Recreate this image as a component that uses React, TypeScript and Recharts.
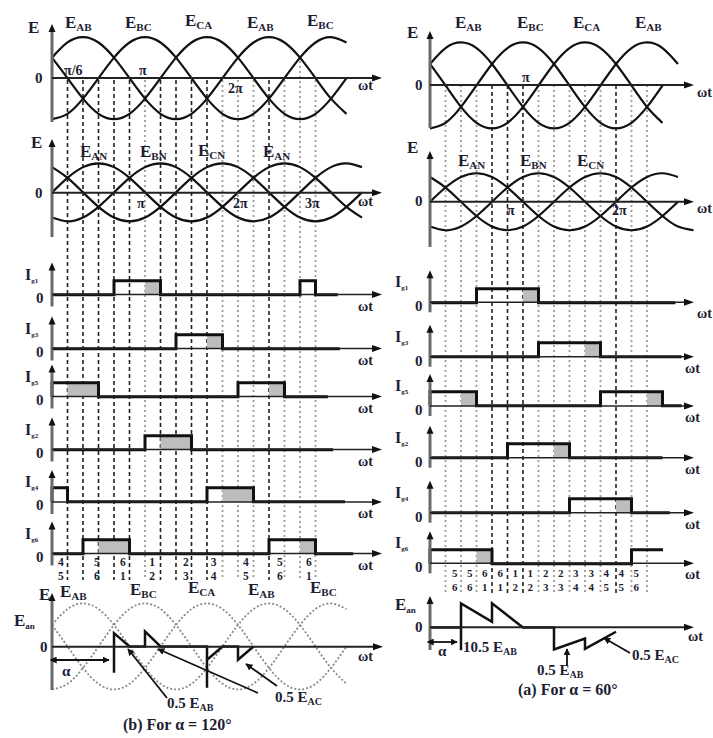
import React from 'react';
import { LineChart, Line, XAxis, YAxis, ReferenceArea, ReferenceLine } from 'recharts';

// ---------- scale helpers (pixels per degree, column origins) ----------
const K = 93 / 180;
const LX = 52;
const RX = 430;

// ---------- sampled waveforms (read at the 30° grid lines) ----------
const DEG = [0, 30, 60, 90, 120, 150, 180, 210, 240, 270, 300, 330, 360, 390, 420, 450, 480, 510, 540, 570, 600];
const E_AB = [0.5, 0.87, 1, 0.87, 0.5, 0, -0.5, -0.87, -1, -0.87, -0.5, 0, 0.5, 0.87, 1, 0.87, 0.5, 0, -0.5, -0.87];
const E_BC = [-1, -0.87, -0.5, 0, 0.5, 0.87, 1, 0.87, 0.5, 0, -0.5, -0.87, -1, -0.87, -0.5, 0, 0.5, 0.87, 1, 0.87];
const E_CA = [0.5, 0, -0.5, -0.87, -1, -0.87, -0.5, 0, 0.5, 0.87, 1, 0.87, 0.5, 0, -0.5, -0.87, -1, -0.87, -0.5, 0];
const E_AN = [0, 0.5, 0.87, 1, 0.87, 0.5, 0, -0.5, -0.87, -1, -0.87, -0.5, 0, 0.5, 0.87, 1, 0.87, 0.5, 0, -0.5, -0.87];
const E_BN = [-0.87, -1, -0.87, -0.5, 0, 0.5, 0.87, 1, 0.87, 0.5, 0, -0.5, -0.87, -1, -0.87, -0.5, 0, 0.5, 0.87, 1, 0.87];
const E_CN = [0.87, 0.5, 0, -0.5, -0.87, -1, -0.87, -0.5, 0, 0.5, 0.87, 1, 0.87, 0.5, 0, -0.5, -0.87, -1, -0.87, -0.5, 0];

// ---------- gate currents (on/off degrees), shaded parts, line ends ----------
const L_G1 = [[120, 210], [480, 510]];
const L_G3 = [[240, 330]];
const L_G5 = [[0, 90], [360, 450]];
const L_G2 = [[180, 270]];
const L_G4 = [[0, 30], [300, 390]];
const L_G6 = [[60, 150], [420, 510]];
const L_G1_SH = [[180, 210]];
const L_G3_SH = [[300, 330]];
const L_G5_SH = [[30, 90], [420, 450]];
const L_G2_SH = [[210, 270]];
const L_G4_SH = [[330, 390]];
const L_G6_SH = [[90, 150], [480, 510]];
const L_ENDS = [553, 557, 534, 544, 567, 583];
const L_ZERO = [294.5, 348.5, 396.5, 449.5, 502, 553.5];

const R_G1 = [[90, 210]];
const R_G3 = [[210, 330]];
const R_G5 = [[0, 90], [330, 450]];
const R_G2 = [[150, 270]];
const R_G4 = [[270, 390]];
const R_G6 = [[0, 120], [390, null]];
const R_G1_SH = [[180, 210]];
const R_G3_SH = [[300, 330]];
const R_G5_SH = [[60, 90], [420, 450]];
const R_G2_SH = [[240, 270]];
const R_G4_SH = [[360, 390]];
const R_G6_SH = [[90, 120]];
const R_ENDS = [475, 487, 487, 450, 464, 451];
const R_ZERO = [302.3, 356.7, 406, 457.7, 512.7, 563.3];

const G_NAMES = ['g1', 'g3', 'g5', 'g2', 'g4', 'g6'];

// ---------- output voltage ----------
const L_OUT_DEG = [120, 120, 120, 150, 180, 180, 210, 300, 300, 300, 330, 360, 360, 390];
const L_OUT_VAL = [0, -0.61, 0.31, 0, 0, 0.35, 0, 0, -0.96, -0.31, 0, 0, -0.31, 0];
const R_OUT_DEG = [0, 60, 60, 60, 120, 120, 180, 240, 240, 300, 300, 360];
const R_OUT_VAL = [0, 0, -0.53, 0.56, 0.13, 0.56, 0, 0, -0.51, -0.26, -0.5, -0.1];

// ---------- grid lines and tick labels ----------
const L_GRID = [30, 60, 90, 120, 150, 180, 210, 240, 270, 300, 330, 360, 390, 420, 450, 480, 510];
const L_GRID_DARK = [30, 60, 90, 120, 150, 210, 240, 270, 300, 420];
const L_GRID_LONG = [480];
const R_GRID = [30, 60, 90, 120, 150, 180, 210, 240, 270, 300, 330, 360, 390, 420];
const R_GRID_DARK = [120, 150, 180, 360];

const L_TICK_DEG = [17, 87, 137, 194, 259, 313, 375, 441, 497];
const L_TICK_TOP = ['4', '5', '6', '1', '2', '3', '4', '5', '6'];
const L_TICK_BOT = ['5', '6', '1', '2', '3', '4', '5', '6', '1'];
const R_TICK_DEG = [48, 77, 106, 136, 165, 194, 224, 253, 282, 312, 341, 370, 399];
const R_TICK_TOP = ['5', '5', '6', '6', '1', '1', '2', '2', '3', '3', '4', '4', '5'];
const R_TICK_BOT = ['6', '6', '1', '1', '2', '2', '3', '3', '4', '4', '5', '5', '6'];

type P = { x: number; y: number };
const pts = (deg: number[], vals: number[]): P[] => vals.map((v, i) => ({ x: deg[i], y: v }));

function stepData(pulses: (number | null)[][], end: number): P[] {
  const out: P[] = [{ x: 0, y: 0 }];
  for (const [on, off] of pulses) {
    out.push({ x: on as number, y: 0 });
    out.push({ x: on as number, y: 1 });
    if (off == null) {
      out.push({ x: end, y: 1 });
      return out;
    }
    out.push({ x: off, y: 1 });
    out.push({ x: off, y: 0 });
  }
  out.push({ x: end, y: 0 });
  return out;
}

const INK = '#111';
const TXT = '#1d1d33';
const FONT = '"Liberation Serif", "DejaVu Serif", "Times New Roman", serif';

function Panel(props: any) {
  const { x0, zeroY, amp, d0, d1, lo, hi, children, fixed } = props;
  const m = 8;
  const left = x0 + d0 * K - m;
  const w = (d1 - d0) * K + 2 * m;
  const top = zeroY - hi * amp - m;
  const h = (hi - lo) * amp + 2 * m;
  return (
    <div style={{ position: 'absolute', left, top, width: w, height: h }}>
      <LineChart width={w} height={h} margin={{ top: m, right: m, bottom: m, left: m }}>
        <XAxis type="number" dataKey="x" domain={[d0, d1]} hide allowDataOverflow={!!fixed} />
        <YAxis type="number" dataKey="y" domain={[lo, hi]} hide allowDataOverflow={!!fixed} />
        {children}
      </LineChart>
    </div>
  );
}

function Curve({ data, dotted }: { data: P[]; dotted?: boolean }) {
  return (
    <Line
      data={data}
      dataKey="y"
      type="natural"
      stroke={dotted ? '#8a8a8a' : INK}
      strokeWidth={dotted ? 1.8 : 2.2}
      strokeDasharray={dotted ? '2 2' : undefined}
      dot={false}
      isAnimationActive={false}
    />
  );
}

function PulsePanel({ x0, zeroY, pulses, shade, end }: any) {
  return (
    <Panel x0={x0} zeroY={zeroY} amp={14} d0={0} d1={600} lo={-0.3} hi={1.2}>
      {shade.map((s: number[], i: number) => (
        <ReferenceArea key={'s' + i} x1={s[0]} x2={s[1]} y1={0} y2={1} fill="#bdbdbd" fillOpacity={1} stroke="none" />
      ))}
      <Line
        data={stepData(pulses, end)}
        dataKey="y"
        type="linear"
        stroke={INK}
        strokeWidth={3}
        dot={false}
        isAnimationActive={false}
      />
    </Panel>
  );
}

function Grid({ x0, top, bottom, grid, dark, long, longTop }: any) {
  return (
    <Panel x0={x0} zeroY={0} amp={1} d0={0} d1={520} lo={-bottom - 5} hi={-longTop + 5} fixed>
      {grid.map((d: number) => {
        const isDark = dark.includes(d);
        const t = long.includes(d) ? longTop : top;
        return (
          <ReferenceLine
            key={d}
            segment={[{ x: d, y: -t }, { x: d, y: -bottom }]}
            stroke={isDark ? '#222' : '#9a9a9a'}
            strokeWidth={isDark ? 1.6 : 1.8}
            strokeDasharray={isDark ? '4 3' : '2 3'}
            ifOverflow="visible"
          />
        );
      })}
    </Panel>
  );
}

// ---------- overlay text / axes ----------
function T({ x, y, s = 16, children, anchor = 'start' }: any) {
  return (
    <text x={x} y={y} fontSize={s} fontFamily={FONT} fontWeight="bold" fill={TXT} textAnchor={anchor}>
      {children}
    </text>
  );
}
function ES({ x, y, main = 'E', sub, s = 17, ss = 11, pre = '' }: any) {
  return (
    <text x={x} y={y} fontSize={s} fontFamily={FONT} fontWeight="bold" fill={TXT}>
      <tspan>{pre}{main}</tspan>
      <tspan fontSize={ss} dy={3}>{sub}</tspan>
    </text>
  );
}
function Axes({ x, y0, yTop, yBot, xEnd, hColor = '#222', hw = 1.8 }: any) {
  return (
    <g>
      <line x1={x} y1={yBot} x2={x} y2={yTop + 6} stroke="#6a6a6a" strokeWidth={3} />
      <polygon points={`${x},${yTop} ${x - 3.5},${yTop + 8} ${x + 3.5},${yTop + 8}`} fill={INK} />
      <line x1={x} y1={y0} x2={xEnd - 7} y2={y0} stroke={hColor} strokeWidth={hw} />
      <polygon points={`${xEnd},${y0} ${xEnd - 10},${y0 - 3.5} ${xEnd - 10},${y0 + 3.5}`} fill={INK} />
    </g>
  );
}
function Arrow({ x1, y1, x2, y2, both = false }: any) {
  return (
    <line
      x1={x1}
      y1={y1}
      x2={x2}
      y2={y2}
      stroke={INK}
      strokeWidth={1.8}
      markerEnd="url(#ah)"
      markerStart={both ? 'url(#ahs)' : undefined}
    />
  );
}

const L_ROWS = [
  [L_G1, L_G1_SH],
  [L_G3, L_G3_SH],
  [L_G5, L_G5_SH],
  [L_G2, L_G2_SH],
  [L_G4, L_G4_SH],
  [L_G6, L_G6_SH],
];
const R_ROWS = [
  [R_G1, R_G1_SH],
  [R_G3, R_G3_SH],
  [R_G5, R_G5_SH],
  [R_G2, R_G2_SH],
  [R_G4, R_G4_SH],
  [R_G6, R_G6_SH],
];

export default function App() {
  const dL = (n: number) => DEG.slice(0, n);
  return (
    <div style={{ position: 'absolute', left: 0, top: 0, width: 713, height: 738, background: '#fff', overflow: 'hidden' }}>
      {/* grid lines */}
      <Grid x0={LX} top={80} bottom={580} longTop={56} grid={L_GRID} dark={L_GRID_DARK} long={L_GRID_LONG} />
      <Grid x0={RX} top={85} bottom={593} longTop={85} grid={R_GRID} dark={R_GRID_DARK} long={[]} />

      {/* left top: line voltages */}
      <Panel x0={LX} zeroY={78} amp={41} d0={0} d1={600} lo={-1.15} hi={1.15}>
        <Curve data={pts(DEG, E_AB)} />
        <Curve data={pts(DEG, E_BC)} />
        <Curve data={pts(DEG, E_CA)} />
      </Panel>
      {/* left second: phase voltages */}
      <Panel x0={LX} zeroY={192.7} amp={29} d0={0} d1={600} lo={-1.15} hi={1.15}>
        <Curve data={pts(DEG, E_AN)} />
        <Curve data={pts(DEG, E_BN)} />
        <Curve data={pts(DEG, E_CN)} />
      </Panel>
      {/* right top */}
      <Panel x0={RX} zeroY={85} amp={43} d0={0} d1={520} lo={-1.15} hi={1.15}>
        <Curve data={pts(dL(17), E_AB.slice(0, 17))} />
        <Curve data={pts(dL(16), E_BC.slice(0, 16))} />
        <Curve data={pts(dL(16), E_CA.slice(0, 16))} />
      </Panel>
      {/* right second */}
      <Panel x0={RX} zeroY={201.7} amp={28.5} d0={0} d1={520} lo={-1.15} hi={1.15}>
        <Curve data={pts(dL(17), E_AN.slice(0, 17))} />
        <Curve data={pts(dL(17), E_BN.slice(0, 17))} />
        <Curve data={pts(dL(18), E_CN.slice(0, 18))} />
      </Panel>

      {/* gate currents */}
      {L_ROWS.map((r, i) => (
        <PulsePanel key={'l' + i} x0={LX} zeroY={L_ZERO[i]} pulses={r[0]} shade={r[1]} end={L_ENDS[i]} />
      ))}
      {R_ROWS.map((r, i) => (
        <PulsePanel key={'r' + i} x0={RX} zeroY={R_ZERO[i]} pulses={r[0]} shade={r[1]} end={R_ENDS[i]} />
      ))}

      {/* left bottom: output voltage for alpha=120 */}
      <Panel x0={LX} zeroY={646.7} amp={43} d0={0} d1={600} lo={-1.15} hi={1.15}>
        <Curve data={pts(DEG.slice(0, 20), E_AB)} dotted />
        <Curve data={pts(DEG.slice(0, 20), E_BC)} dotted />
        <Curve data={pts(DEG.slice(0, 20), E_CA)} dotted />
        <Line data={pts(L_OUT_DEG, L_OUT_VAL)} dataKey="y" type="linear" stroke={INK} strokeWidth={2.5} dot={false} isAnimationActive={false} />
      </Panel>
      {/* right bottom: output voltage for alpha=60 */}
      <Panel x0={RX} zeroY={627.3} amp={43} d0={0} d1={520} lo={-1.15} hi={1.15}>
        <Line data={pts(R_OUT_DEG, R_OUT_VAL)} dataKey="y" type="linear" stroke={INK} strokeWidth={2.5} dot={false} isAnimationActive={false} />
      </Panel>

      {/* overlay: axes, labels, annotations */}
      <svg width={713} height={738} style={{ position: 'absolute', left: 0, top: 0, pointerEvents: 'none' }}>
        <defs>
          <marker id="ah" viewBox="0 0 10 10" refX="9" refY="5" markerWidth="7" markerHeight="7" orient="auto" markerUnits="userSpaceOnUse">
            <path d="M0,0 L10,5 L0,10 z" fill={INK} />
          </marker>
          <marker id="ahs" viewBox="0 0 10 10" refX="1" refY="5" markerWidth="7" markerHeight="7" orient="auto-start-reverse" markerUnits="userSpaceOnUse">
            <path d="M0,0 L10,5 L0,10 z" fill={INK} />
          </marker>
        </defs>

        {/* ===== left column ===== */}
        <Axes x={LX} y0={78} yTop={24} yBot={122} xEnd={382} hw={2} />
        <T x={28} y={33} s={17}>E</T>
        <T x={35} y={83} s={15}>0</T>
        <ES x={65} y={28} sub="AB" />
        <ES x={125} y={28} sub="BC" />
        <ES x={185} y={26} sub="CA" />
        <ES x={247} y={28} sub="AB" />
        <ES x={307} y={26} sub="BC" />
        <T x={64} y={75} s={14}>π/6</T>
        <T x={139} y={75} s={14}>π</T>
        <T x={228} y={93} s={14}>2π</T>
        <T x={358} y={90} s={14}>ωt</T>

        <Axes x={LX} y0={192.7} yTop={139} yBot={237} xEnd={382} hw={2} />
        <T x={31} y={148} s={17}>E</T>
        <T x={35} y={198} s={15}>0</T>
        <ES x={80} y={157} sub="AN" />
        <ES x={140} y={157} sub="BN" />
        <ES x={198} y={156} sub="CN" />
        <ES x={263} y={157} sub="AN" />
        <T x={137} y={208} s={14}>π</T>
        <T x={233} y={208} s={14}>2π</T>
        <T x={305} y={208} s={14}>3π</T>
        <T x={358} y={206} s={14}>ωt</T>

        {L_ZERO.map((z, i) => (
          <g key={'la' + i}>
            <Axes x={LX} y0={z} yTop={z - 32} yBot={z + 12} xEnd={382} hw={1.5} />
            <ES x={25} y={z - 15} main="I" sub={G_NAMES[i]} s={16} ss={7} />
            <T x={36} y={z + 8} s={15}>0</T>
            <T x={358} y={z + 16} s={14}>ωt</T>
          </g>
        ))}
        {L_TICK_DEG.map((d, i) => (
          <g key={'lt' + i}>
            <T x={LX + d * K} y={566} s={11.5} anchor="middle">{L_TICK_TOP[i]}</T>
            <T x={LX + d * K} y={580} s={11.5} anchor="middle">{L_TICK_BOT[i]}</T>
          </g>
        ))}

        <Axes x={LX} y0={646.7} yTop={593} yBot={690} xEnd={383} hw={2} />
        <T x={39} y={600} s={17}>E</T>
        <ES x={14} y={626} sub="an" s={17} ss={9} />
        <T x={40} y={652} s={15}>0</T>
        <ES x={60} y={597} sub="AB" />
        <ES x={130} y={595} sub="BC" />
        <ES x={188} y={593} sub="CA" />
        <ES x={248} y={595} sub="AB" />
        <ES x={310} y={593} sub="BC" />
        <T x={358} y={661} s={14}>ωt</T>
        <Arrow x1={56} y1={660} x2={109} y2={660} both />
        <T x={62} y={676} s={15}>α</T>
        <Arrow x1={167} y1={698} x2={128} y2={649} />
        <Arrow x1={258} y1={693} x2={158} y2={649} />
        <Arrow x1={277} y1={686} x2={246} y2={664} />
        <ES x={167} y={708} pre="0.5 " sub="AB" s={15} ss={10} />
        <ES x={275} y={702} pre="0.5 " sub="AC" s={15} ss={10} />
        <T x={123} y={730} s={16}>(b) For α = 120°</T>

        {/* ===== right column ===== */}
        <Axes x={RX} y0={85} yTop={31} yBot={128} xEnd={694} hw={2} />
        <T x={407} y={38} s={17}>E</T>
        <T x={415} y={90} s={15}>0</T>
        <ES x={455} y={28} sub="AB" />
        <ES x={517} y={28} sub="BC" />
        <ES x={573} y={28} sub="CA" />
        <ES x={635} y={28} sub="AB" />
        <T x={522} y={82} s={14}>π</T>
        <T x={697} y={97} s={14}>ωt</T>

        <Axes x={RX} y0={201.7} yTop={151} yBot={247} xEnd={694} hw={2} />
        <T x={407} y={153} s={17}>E</T>
        <T x={415} y={206} s={15}>0</T>
        <ES x={458} y={166} sub="AN" />
        <ES x={520} y={166} sub="BN" />
        <ES x={577} y={166} sub="CN" />
        <T x={507} y={215} s={14}>π</T>
        <T x={612} y={215} s={14}>2π</T>
        <T x={697} y={213} s={14}>ωt</T>

        {R_ZERO.map((z, i) => (
          <g key={'ra' + i}>
            <Axes x={RX} y0={z} yTop={z - 32} yBot={z + 10} xEnd={694} hw={1.5} />
            <ES x={395} y={z - 15} main="I" sub={G_NAMES[i]} s={16} ss={7} />
            <T x={415} y={z + 9} s={15}>0</T>
            <T x={i === 0 ? 697 : 685} y={z + 16} s={14}>ωt</T>
          </g>
        ))}
        {R_TICK_DEG.map((d, i) => (
          <g key={'rt' + i}>
            <T x={RX + d * K} y={577} s={11} anchor="middle">{R_TICK_TOP[i]}</T>
            <T x={RX + d * K} y={591} s={11} anchor="middle">{R_TICK_BOT[i]}</T>
          </g>
        ))}

        <Axes x={RX} y0={627.3} yTop={596} yBot={650} xEnd={694} hw={2} />
        <ES x={395} y={610} sub="an" s={17} ss={9} />
        <T x={415} y={632} s={15}>0</T>
        <T x={688} y={641} s={14}>ωt</T>
        <Arrow x1={433} y1={642} x2={457} y2={642} both />
        <T x={438} y={656} s={15}>α</T>
        <ES x={463} y={652} pre="10.5 " sub="AB" s={15} ss={10} />
        <Arrow x1={567} y1={666} x2={567} y2={649} />
        <ES x={537} y={675} pre="0.5 " sub="AB" s={15} ss={10} />
        <Arrow x1={630} y1={653} x2={604} y2={638} />
        <ES x={632} y={660} pre="0.5 " sub="AC" s={15} ss={10} />
        <T x={518} y={695} s={16}>(a) For α = 60°</T>
      </svg>
    </div>
  );
}
